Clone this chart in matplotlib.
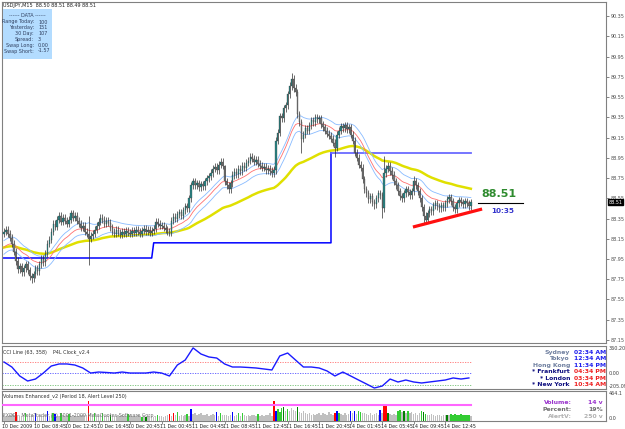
import matplotlib
matplotlib.use("Agg")
import matplotlib.pyplot as plt
import matplotlib.transforms as mtransforms
from matplotlib.patches import Rectangle
import numpy as np

# ---- price data (M15 closes) ----
closes = [
    88.22, 88.24, 88.20, 88.16, 88.10, 88.02, 87.93, 87.85, 87.88, 87.82, 87.86, 87.90, 87.84, 87.78, 87.76, 87.80,
    87.86, 87.83, 87.90, 87.95, 87.92, 88.00, 88.10, 88.14, 88.22, 88.30, 88.27, 88.34, 88.38, 88.32, 88.36, 88.33,
    88.30, 88.34, 88.40, 88.36, 88.38, 88.33, 88.30, 88.26, 88.28, 88.22, 88.20, 88.15, 88.18, 88.20, 88.24, 88.28,
    88.32, 88.36, 88.34, 88.30, 88.33, 88.31, 88.26, 88.22, 88.20, 88.24, 88.21, 88.19, 88.22, 88.20, 88.23, 88.21,
    88.20, 88.23, 88.21, 88.24, 88.22, 88.20, 88.23, 88.25, 88.22, 88.24, 88.21, 88.23, 88.25, 88.32, 88.30, 88.28,
    88.28, 88.26, 88.24, 88.22, 88.21, 88.33, 88.37, 88.35, 88.39, 88.41, 88.38, 88.43, 88.47, 88.45, 88.55, 88.68,
    88.72, 88.68, 88.70, 88.66, 88.69, 88.67, 88.72, 88.75, 88.77, 88.80, 88.84, 88.86, 88.83, 88.88, 88.91, 88.87,
    88.72, 88.68, 88.64, 88.70, 88.78, 88.81, 88.79, 88.84, 88.82, 88.87, 88.85, 88.90, 88.92, 88.96, 88.94, 88.91,
    88.93, 88.89, 88.87, 88.85, 88.86, 88.83, 88.84, 88.82, 88.80, 88.83, 89.12, 89.20, 89.36, 89.34, 89.44, 89.47,
    89.58, 89.66, 89.73, 89.64, 89.60, 89.38, 89.30, 89.14, 89.18, 89.24, 89.22, 89.27, 89.32, 89.30, 89.35, 89.33,
    89.34, 89.28, 89.25, 89.22, 89.19, 89.17, 89.14, 89.10, 89.05, 89.18, 89.22, 89.26, 89.24, 89.27, 89.23, 89.25,
    89.18, 89.12, 89.00, 88.95, 88.88, 88.85, 88.74, 88.64, 88.60, 88.54, 88.57, 88.51, 88.49, 88.55, 88.60, 88.58,
    88.45, 88.80, 88.84, 88.87, 88.82, 88.78, 88.72, 88.68, 88.62, 88.57, 88.55, 88.60, 88.64, 88.61, 88.58, 88.62,
    88.72, 88.68, 88.62, 88.55, 88.46, 88.38, 88.34, 88.40, 88.44, 88.42, 88.48, 88.50, 88.47, 88.45, 88.48, 88.46,
    88.50, 88.54, 88.56, 88.52, 88.46, 88.44, 88.50, 88.53, 88.51, 88.49, 88.52, 88.50, 88.47, 88.51,
]
first_open = 88.20
wick = 0.035
high_spikes = {43: 88.38, 112: 88.88, 146: 89.79, 193: 88.97, 208: 88.77}
low_spikes = {14: 87.71, 43: 87.89, 114: 88.60, 151: 89.00, 168: 88.96, 188: 88.44, 192: 88.36, 213: 88.31}

# moving averages: seeds carried over from before the visible window
slow_period, slow_seed = 72, 88.06
fast_period, fast_seed = 21, 88.05
band_seed_hi, band_seed_lo = 88.12, 87.98

# previous-day levels (blue step line)
level_start = [-1, 76, 166]
level_end = [75, 166, 237]
level_value = [87.96, 88.11, 89.00]

# trendline drawn by the trader
trend_x = [207.6, 242.7]
trend_y = [88.266, 88.444]

# CCI values, one every 4 bars
cci_step = 4
cci_vals = [150, 84, -34, -100, -74, 5, 97, 124, 124, 110, 71, 5, 18, 12, 5, 18,
            5, 5, 5, 18, 5, -34, 110, 176, 335, 255, 216, 202, 124, 84, 84, 78,
            71, 58, 45, 229, 268, 176, 84, 84, 71, 32, -34, 18, -34, -87, -139, -192,
            -166, -74, -113, -87, -113, -126, -113, -100, -87, -60, -74, -60]
cci_levels = [150, 0, -150]

# volumes and Volumes Enhanced colour codes
volumes = [
    90, 70, 85, 95, 110, 100, 135, 90, 80, 75, 95, 130, 85, 70, 100, 90,
    120, 80, 90, 70, 85, 95, 150, 80, 100, 130, 110, 85, 75, 120, 90, 80,
    90, 110, 80, 95, 75, 85, 70, 90, 100, 80, 95, 310, 120, 85, 130, 90,
    85, 95, 120, 80, 90, 75, 100, 70, 85, 80, 90, 75, 95, 70, 80, 110,
    80, 70, 85, 75, 90, 70, 60, 95, 65, 70, 85, 75, 65, 80, 95, 70,
    75, 65, 80, 90, 110, 85, 120, 95, 135, 80, 100, 75, 90, 115, 85, 180,
    110, 120, 95, 105, 130, 90, 100, 115, 85, 95, 110, 90, 135, 80, 120, 95,
    90, 100, 80, 95, 140, 85, 90, 120, 75, 130, 90, 85, 95, 80, 100, 90,
    85, 110, 80, 95, 75, 90, 100, 120, 85, 310, 160, 190, 140, 200, 210, 150,
    180, 160, 200, 170, 150, 220, 140, 130, 160, 120, 110, 130, 100, 115, 90, 105,
    120, 100, 130, 110, 95, 140, 105, 90, 120, 150, 130, 110, 100, 125, 90, 105,
    150, 120, 160, 110, 150, 140, 120, 130, 110, 100, 125, 95, 110, 120, 100, 170,
    130, 240, 230, 120, 110, 100, 115, 90, 150, 170, 140, 160, 130, 155, 120, 140,
    110, 130, 100, 120, 150, 140, 115, 100, 90, 110, 95, 85, 100, 90, 80, 95,
    90, 100, 95, 105, 100, 110, 95, 100, 105, 95, 100, 90, 95, 85,
]
vol_codes = ("ggggggRggggGgggg" "BgggggBggGBggGgg" "gGgggggggggRggGg" "ggGgggDggggggggG"
             "ggggggGgDgggggGg" "ggggRgRgGggggGgB" "ggggggggggggBgGg" "ggggBggGgGgggggg"
             "gGgggggggRBGGGDg" "GggggDgggggggggg" "ggggggggRBGggggg" "BgBgGGgggggggggB"
             "gRRDggggGGgDgGgg" "ggggGDGggggggggg" "gDgGGGGGGGGGGg")
alert_level = 250
vol_max = 464.1

date_labels = ["10 Dec 2009", "10 Dec 08:45", "10 Dec 12:45", "10 Dec 16:45", "10 Dec 20:45",
               "11 Dec 00:45", "11 Dec 04:45", "11 Dec 08:45", "11 Dec 12:45", "11 Dec 16:45",
               "11 Dec 20:45", "14 Dec 01:45", "14 Dec 05:45", "14 Dec 09:45", "14 Dec 12:45"]
label_every = 16

clock_cities = ["Sydney", "Tokyo", "Hong Kong", "* Frankfurt", "* London", "* New York"]
clock_times = ["02:34 AM", "12:34 AM", "11:34 PM", "04:34 PM", "03:34 PM", "10:34 AM"]
data_names = ["Range Today:", "Yesterday:", "30 Day:", "Spread:", "Swap Long:", "Swap Short:"]
data_values = ["100", "151", "107", "3", "0.00", "-1.57"]


def ema(values, period, seed):
    a = 2.0 / (period + 1)
    out, v = [], seed
    for x in values:
        v = v + a * (x - v)
        out.append(v)
    return np.array(out)


closes = np.array(closes)
n = len(closes)
idx = np.arange(n)
opens = np.concatenate([[first_open], closes[:-1]])
highs = np.maximum(opens, closes) + wick
lows = np.minimum(opens, closes) - wick
for k, v in high_spikes.items():
    highs[k] = v
for k, v in low_spikes.items():
    lows[k] = v

W, H = 625, 429


def box(x0, y0, x1, y1):
    return [x0 / W, 1 - y1 / H, (x1 - x0) / W, (y1 - y0) / H]


def fx(x):
    return x / W


def fy(y):
    return 1 - y / H


fig = plt.figure(figsize=(6.25, 4.29), dpi=100)
fig.patch.set_facecolor("white")
ax = fig.add_axes(box(2, 2, 606, 343))
ax_cci = fig.add_axes(box(2, 346, 606, 389), sharex=ax)
ax_vol = fig.add_axes(box(2, 391, 606, 421), sharex=ax)

fs = 3.5
for a in (ax, ax_cci, ax_vol):
    for s in a.spines.values():
        s.set_color("#808080")
        s.set_linewidth(0.8)
    a.yaxis.tick_right()
    a.tick_params(axis="y", labelsize=fs, length=2, width=0.5, pad=1.2, colors="#505050")
    a.tick_params(axis="x", bottom=False, labelbottom=False)

ax.set_xlim(-1, 305.6)

# ---- main price panel ----
ax.set_ylim(87.12, 90.49)
ticks = np.round(np.arange(87.15, 90.36, 0.2), 2)
ax.set_yticks(ticks)
ax.set_yticklabels([f"{t:.2f}" for t in ticks])

# previous day levels
ax.plot([level_start[0], level_end[0], level_start[1], level_end[1], level_end[1]],
        [level_value[0], level_value[0], level_value[1], level_value[1], level_value[2]],
        color="#0000ff", lw=1.1, zorder=2)
ax.plot([level_start[2], level_end[2]], [level_value[2], level_value[2]], color="#6a6aff", lw=1.3, zorder=2)

# moving averages
ax.plot(idx, ema(closes, slow_period, slow_seed), color="#e0e000", lw=1.8, zorder=3)
ax.plot(idx, ema(highs, fast_period, band_seed_hi), color="#88bbff", lw=0.6, zorder=3)
ax.plot(idx, ema(lows, fast_period, band_seed_lo), color="#88bbff", lw=0.6, zorder=3)
ax.plot(idx, ema(closes, fast_period, fast_seed), color="#ff7070", lw=0.6, zorder=3)

# candles
up = closes >= opens
ax.vlines(idx, lows, highs, color="#303030", lw=0.5, zorder=4)
body = np.maximum(np.abs(closes - opens), 0.006)
ax.bar(idx, body, bottom=np.minimum(opens, closes), width=0.7,
       color=np.where(up, "#2a8585", "#7a7a7a"), edgecolor="#303030", lw=0.2, zorder=5)

# trader's trendline
ax.plot(trend_x, trend_y, color="#ff1010", lw=2.3, solid_capstyle="butt", zorder=6)

# current price marker
ax.plot([240.6, 263.5], [88.50, 88.50], color="black", lw=0.8, zorder=6)
ax.text(251, 88.545, "88.51", color="#2e8b2e", fontsize=8, fontweight="bold", ha="center", va="bottom")
ax.text(253, 88.455, "10:35", color="#3333cc", fontsize=5.2, fontweight="bold", ha="center", va="top")
blend = mtransforms.blended_transform_factory(ax.transAxes, ax.transData)
ax.text(1.004, closes[-1], f"{closes[-1]:.2f}", transform=blend, fontsize=fs, color="white",
        va="center", ha="left", bbox=dict(fc="black", ec="black", pad=0.3), zorder=10)

# header and DATA box
fig.text(fx(3), fy(5), "USDJPY,M15  88.50 88.51 88.49 88.51", fontsize=fs, va="center", color="#202020")
fig.patches.append(Rectangle((fx(3), fy(59)), fx(49), fy(9) - fy(59), transform=fig.transFigure,
                             facecolor="#b3dcff", edgecolor="none", zorder=0))
fig.text(fx(27.5), fy(15.5), "------ DATA ------", fontsize=fs, ha="center", va="center", color="#304060")
for k, (nm, vl) in enumerate(zip(data_names, data_values)):
    yy = 22 + k * 5.8
    fig.text(fx(34), fy(yy), nm, fontsize=fs, ha="right", va="center", color="#304060")
    fig.text(fx(38), fy(yy), vl, fontsize=fs, ha="left", va="center", color="#304060")

# ---- CCI panel ----
cci_lo, cci_hi = -205.093, 360.206
ax_cci.set_ylim(cci_lo, cci_hi)
ax_cci.set_yticks([])
for lv, c in zip(cci_levels, ["#ff7070", "#5555ff", "#70c070"]):
    ax_cci.plot([-1, 237], [lv, lv], color=c, lw=0.6, ls=(0, (1.5, 1.5)))
cci_x = np.arange(len(cci_vals)) * cci_step
ax_cci.plot(cci_x, cci_vals, color="#1a1aff", lw=1.0)
bl = mtransforms.blended_transform_factory(ax_cci.transAxes, ax_cci.transData)
ax_cci.text(1.005, cci_hi, "360.206", transform=bl, fontsize=fs, va="top", color="#404040")
ax_cci.text(1.005, 0, "0.00", transform=bl, fontsize=fs, va="center", color="#404040")
ax_cci.text(1.005, cci_lo, "-205.093", transform=bl, fontsize=fs, va="bottom", color="#404040")
fig.text(fx(3), fy(352), "CCI Line (63, 358)    P4L Clock_v2.4", fontsize=fs, va="center", color="#303030")

for k, (city, tm) in enumerate(zip(clock_cities, clock_times)):
    yy = 352.5 + k * 6.4
    ccol = "#7080a0" if k < 3 else "#101080"
    tcol = "#2020ee" if k < 3 else "#ee2020"
    fig.text(fx(570), fy(yy), city, fontsize=4.4, fontweight="bold", ha="right", va="center", color=ccol)
    fig.text(fx(574), fy(yy), tm, fontsize=4.4, fontweight="bold", ha="left", va="center", color=tcol)

# ---- volume panel ----
ax_vol.set_ylim(0, vol_max)
ax_vol.set_yticks([])
cmap = {"g": "#c0c0c0", "G": "#33cc33", "D": "#008000", "B": "#0000ff", "R": "#ff0000"}
ax_vol.bar(idx, volumes, width=0.75, color=[cmap[c] for c in vol_codes], lw=0, zorder=3)
ax_vol.plot([-1, n - 1], [alert_level, alert_level], color="#ff66ff", lw=1.5, zorder=4)
blv = mtransforms.blended_transform_factory(ax_vol.transAxes, ax_vol.transData)
ax_vol.text(1.005, vol_max, "464.1", transform=blv, fontsize=fs, va="top", color="#404040")
ax_vol.text(1.005, 0, "0.0", transform=blv, fontsize=fs, va="bottom", color="#404040")
fig.text(fx(3), fy(396), "Volumes Enhanced_v2 (Period 18, Alert Level 250)", fontsize=fs, va="center", color="#303030")
fig.text(fx(3), fy(415), "FXDD - MetaTrader (C) 2001-2009 MetaQuotes Software Corp.", fontsize=fs,
         va="center", color="#707070", zorder=0)
for k, (nm, vl, c) in enumerate(zip(["Volume:", "Percent:", "AlertV:"], ["14 v", "19%", "250 v"],
                                    ["#9933cc", "#707070", "#b0b0b0"])):
    yy = 403 + k * 6.7
    fig.text(fx(572), fy(yy), nm, fontsize=4.4, fontweight="bold", ha="right", va="center", color=c)
    fig.text(fx(603), fy(yy), vl, fontsize=4.4, fontweight="bold", ha="right", va="center", color=c)

# date axis
pos = np.arange(len(date_labels)) * label_every
ax_vol.tick_params(axis="x", bottom=True, labelbottom=False, length=2, width=0.5, colors="#606060")
ax_vol.set_xticks(pos)
dtr = mtransforms.blended_transform_factory(ax_vol.transData, ax_vol.transAxes)
for p, lab in zip(pos, date_labels):
    ax_vol.text(p - 0.8, -0.1, lab, transform=dtr, fontsize=3.4, ha="left", va="top", color="#202020")

fig.savefig("out.png", dpi=100)
